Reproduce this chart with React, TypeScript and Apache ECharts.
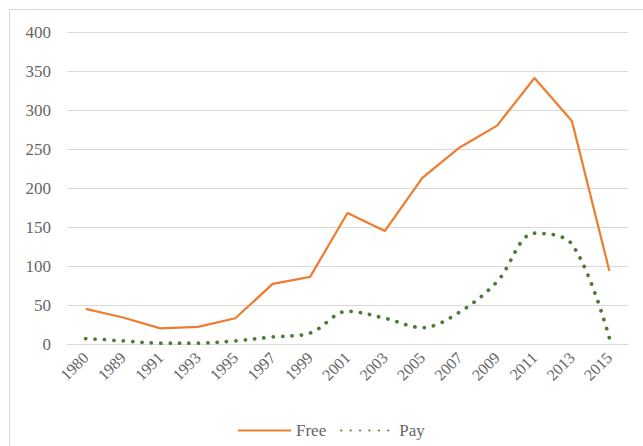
import React, { useEffect, useRef } from "react";
import * as echarts from "echarts";

const years = ["1980", "1989", "1991", "1993", "1995", "1997", "1999", "2001", "2003", "2005", "2007", "2009", "2011", "2013", "2015"];
const freeValues = [45, 34, 20, 22, 33, 77, 86, 168, 145, 213, 252, 280, 341, 286, 94];
const payValues = [7, 4, 1, 1, 4, 9, 14, 42, 33, 21, 41, 80, 142, 128, 8];
const yTicks = { min: 0, max: 400, interval: 50 };

const FONT = "'Liberation Serif', serif";
const TEXT = "#666666";

export default function App() {
  const ref = useRef<HTMLDivElement>(null);

  useEffect(() => {
    if (!ref.current) return;
    const chart = echarts.init(ref.current, undefined, { renderer: "svg" });
    chart.setOption({
      animation: false,
      backgroundColor: "#ffffff",
      graphic: [
        {
          type: "rect",
          shape: { x: 9.5, y: 9.5, width: 700, height: 500 },
          style: { fill: "none", stroke: "#d9d9d9", lineWidth: 1 },
          silent: true,
          z: -1,
        },
      ],
      grid: { left: 67, right: 15, top: 32, bottom: 102, containLabel: false },
      legend: {
        left: 232,
        top: 417,
        itemWidth: 53,
        itemHeight: 16,
        itemGap: 14,
        itemStyle: { opacity: 0 },
        textStyle: { fontFamily: FONT, fontSize: 17, color: TEXT },
        data: ["Free", "Pay"],
      },
      xAxis: {
        type: "category",
        data: years,
        boundaryGap: true,
        axisLine: { show: true, lineStyle: { color: "#d9d9d9", width: 1 } },
        axisTick: { show: false },
        axisLabel: {
          rotate: 45,
          margin: 11,
          interval: 0,
          fontFamily: FONT,
          fontSize: 16,
          color: TEXT,
        },
      },
      yAxis: {
        type: "value",
        min: yTicks.min,
        max: yTicks.max,
        interval: yTicks.interval,
        axisLine: { show: false },
        axisTick: { show: false },
        splitLine: { lineStyle: { color: "#d9d9d9", width: 1 } },
        axisLabel: { margin: 16, fontFamily: FONT, fontSize: 17, color: TEXT },
      },
      series: [
        {
          name: "Free",
          type: "line",
          data: freeValues,
          symbol: "none",
          lineStyle: { color: "#ED7D31", width: 2.25 },
          itemStyle: { color: "#ED7D31" },
        },
        {
          name: "Pay",
          type: "line",
          data: payValues,
          symbol: "none",
          smooth: 0.35,
          lineStyle: { color: "#4E7A35", width: 3.75, type: [0.1, 9.3], cap: "round" },
          itemStyle: { color: "#4E7A35" },
        },
      ],
    });
    return () => chart.dispose();
  }, []);

  return (
    <div
      ref={ref}
      style={{ position: "fixed", left: 0, top: 0, width: 643, height: 446 }}
    />
  );
}
